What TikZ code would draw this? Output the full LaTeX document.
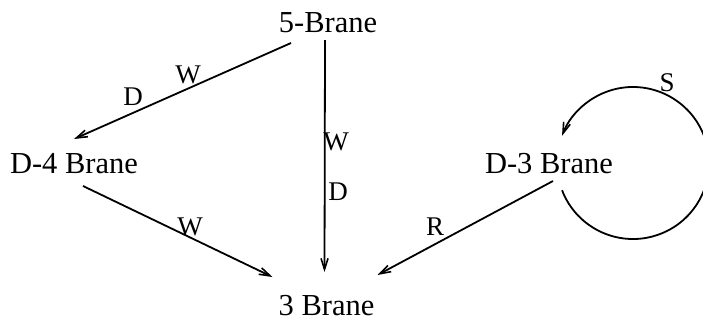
\documentclass[tikz,border=0pt]{standalone}
\usepackage{fontspec}
\setmainfont{Liberation Serif}
\usetikzlibrary{arrows.meta,calc}
\tikzset{
  brane/.style={inner sep=0pt, anchor=base, font=\fontsize{30.5}{34}\selectfont},
  lab/.style={inner sep=0pt, anchor=base, font=\fontsize{27}{31}\selectfont},
  conn/.style={line width=1.8pt, -{Straight Barb[length=11pt,width=7pt,line width=1.6pt]}},
}
\begin{document}
\begin{tikzpicture}[x=1pt,y=-1pt]
\useasboundingbox (0,0) rectangle (703,322);
\node[brane] (n5) at (328,32) {5-Brane};
\node[brane] (d4) at (74,173) {D-4 Brane};
\node[brane] (d3) at (549,173) {D-3 Brane};
\node[brane] (n3) at (326.5,315) {3 Brane};
% connectors
\draw[conn] ($(n5.base)+(-37,11)$) -- ($(d4.base)+(0,-34)$);
\draw[conn] ($(n5.base)+(-3,8)$) -- ($(n3.base)+(-2,-43)$);
\draw[conn] ($(d4.base)+(9,13)$) -- ($(n3.base)+(-54,-38)$);
\draw[conn] ($(d3.base)+(4,8)$) -- ($(n3.base)+(51,-40)$);
\coordinate (c) at ($(d3.base)+(84,-10)$);
\draw[conn] ($(c)+(159:76)$) arc[start angle=159, end angle=-159, radius=76];
% labels
\node[lab] (l1) at (188,83) {W};
\node[lab] (l2) at (133,105) {D};
\node[lab] (l3) at (336,150) {W};
\node[lab] (l4) at (338,200) {D};
\node[lab] (l5) at (190,235) {W};
\node[lab] (l6) at (435,235) {R};
\node[lab] (l7) at (667,91) {S};
\end{tikzpicture}
\end{document}
